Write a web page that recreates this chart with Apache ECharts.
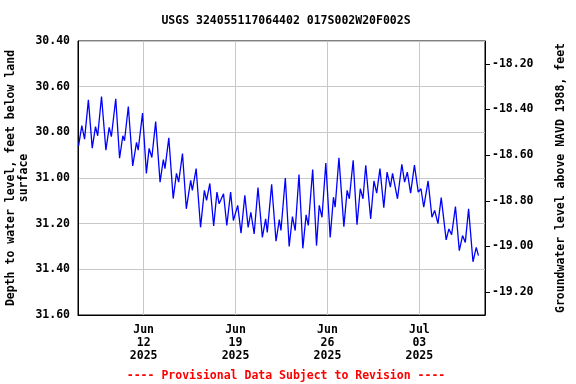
<!DOCTYPE html>
<html>
<head>
<meta charset="utf-8">
<script src="https://cdn.jsdelivr.net/npm/echarts@6/dist/echarts.min.js"></script>
<style>html,body{margin:0;padding:0;background:#fff}#c{width:576px;height:384px}</style>
</head>
<body>
<div id="c"></div>
<script>
// Hours since 2025-06-07 00:00 UTC of turning points
const hours = [1,7,12,19,26,32,36,43,51,57,61,69,76,82,85,92,100,107,110,118,
  125,130,135,142,150,156,159,166,174,180,184,191,198,206,209,216,224,231,235,241,
  248,254,258,266,272,279,284,292,298,305,311,316,322,329,337,343,346,354,362,368,
  371,379,386,392,397,404,411,417,421,429,436,441,446,453,461,467,470,477,486,492,
  496,503,510,516,521,526,535,541,546,552,559,565,571,575,584,592,597,602,608,615,
  622,627,632,640,647,652,658,664,673,678,683,690,697,703,708,714,722,728,732];
// Depth to water level, feet below land surface
const depth = [30.859,30.771,30.83,30.658,30.869,30.775,30.815,30.643,30.878,30.778,30.819,30.653,30.913,30.815,30.837,30.687,30.947,30.844,30.878,30.716,
  30.98,30.870,30.91,30.753,31.018,30.919,30.959,30.824,31.09,30.98,31.018,30.893,31.135,31.01,31.054,30.959,31.216,31.054,31.098,31.024,
  31.21,31.062,31.113,31.069,31.208,31.062,31.186,31.12,31.242,31.076,31.216,31.15,31.245,31.042,31.26,31.179,31.238,31.028,31.277,31.182,
  31.23,31.0,31.30,31.169,31.23,30.985,31.308,31.161,31.208,30.963,31.296,31.12,31.172,30.934,31.26,31.084,31.128,30.912,31.213,31.054,
  31.091,30.922,31.205,31.047,31.091,30.944,31.179,31.013,31.066,30.959,31.13,30.974,31.04,30.98,31.091,30.94,31.018,30.974,31.066,30.944,
  31.062,31.047,31.128,31.013,31.172,31.142,31.20,31.086,31.271,31.223,31.248,31.125,31.318,31.252,31.282,31.135,31.367,31.304,31.34];
const startDate = Date.UTC(2025, 5, 7, 0, 0);
const axisEndHour = 744; // 2025-07-08 00:00
const xTickHours = [120, 288, 456, 624]; // Jun 12, Jun 19, Jun 26, Jul 03
const leftMin = 30.4, leftMax = 31.6, leftStep = 0.2;
const landSurface = 12.3; // elevation = landSurface - depth
const rightTicks = [-18.2, -18.4, -18.6, -18.8, -19.0, -19.2];
const months = ['Jan','Feb','Mar','Apr','May','Jun','Jul','Aug','Sep','Oct','Nov','Dec'];

const data = hours.map((h, i) => [h, depth[i]]);
const FONT = 'DejaVu Sans Mono';
const chart = echarts.init(document.getElementById('c'), null, {renderer: 'canvas'});
chart.setOption({
  animation: false,
  title: [{
    text: 'USGS 324055117064402 017S002W20F002S',
    left: 281, top: 10, textAlign: 'center',
    textStyle: {fontFamily: FONT, fontWeight: 'bold', fontSize: 11.5, color: '#000'}
  }, {
    text: '---- Provisional Data Subject to Revision ----',
    left: 281, top: 365, textAlign: 'center',
    textStyle: {fontFamily: FONT, fontWeight: 'bold', fontSize: 11.5, color: '#ff0000'}
  }],
  grid: {left: 78, right: 91, top: 41, bottom: 69, outerBoundsMode: 'none', containLabel: false,
    show: true, borderColor: '#000', borderWidth: 1, backgroundColor: 'transparent'},
  xAxis: {
    type: 'value', min: 0, max: axisEndHour,
    axisLine: {show: true, lineStyle: {color: '#000', width: 1}},
    axisTick: {show: false, customValues: xTickHours},
    splitLine: {show: true, lineStyle: {color: '#c8c8c8', width: 1}},
    axisLabel: {
      customValues: xTickHours, margin: 9, lineHeight: 13,
      fontFamily: FONT, fontWeight: 'bold', fontSize: 11.5, color: '#000',
      formatter: v => { const d = new Date(startDate + v * 3600000); return months[d.getUTCMonth()] + '\n' + String(d.getUTCDate()).padStart(2, '0') + '\n' + d.getUTCFullYear(); }
    }
  },
  yAxis: [{
    type: 'value', inverse: true, min: leftMin, max: leftMax, interval: leftStep,
    name: 'Depth to water level, feet below land\nsurface',
    nameLocation: 'middle', nameGap: 47, nameRotate: 90, nameMoveOverlap: false,
    nameTextStyle: {fontFamily: FONT, fontWeight: 'bold', fontSize: 11.5, color: '#000', lineHeight: 13},
    axisLine: {show: true, lineStyle: {color: '#000'}},
    axisTick: {show: false},
    splitLine: {show: true, lineStyle: {color: '#c8c8c8', width: 1}},
    axisLabel: {fontFamily: FONT, fontWeight: 'bold', fontSize: 11.5, color: '#000', margin: 8, formatter: v => v.toFixed(2)}
  }, {
    type: 'value', position: 'right', min: landSurface - leftMax, max: landSurface - leftMin,
    name: 'Groundwater level above NAVD 1988, feet',
    nameLocation: 'middle', nameGap: 70, nameRotate: 90,
    nameTextStyle: {fontFamily: FONT, fontWeight: 'bold', fontSize: 11.5, color: '#000'},
    axisLine: {show: true, lineStyle: {color: '#000'}},
    axisTick: {show: true, length: 5, customValues: rightTicks, lineStyle: {color: '#000'}},
    splitLine: {show: false},
    axisLabel: {customValues: rightTicks, fontFamily: FONT, fontWeight: 'bold', fontSize: 11.5, color: '#000', margin: 7, formatter: v => v.toFixed(2)}
  }],
  series: [{
    type: 'line', yAxisIndex: 0, data: data, showSymbol: false, smooth: false,
    lineStyle: {color: '#0000ff', width: 1.3}
  }]
});
</script>
</body>
</html>
